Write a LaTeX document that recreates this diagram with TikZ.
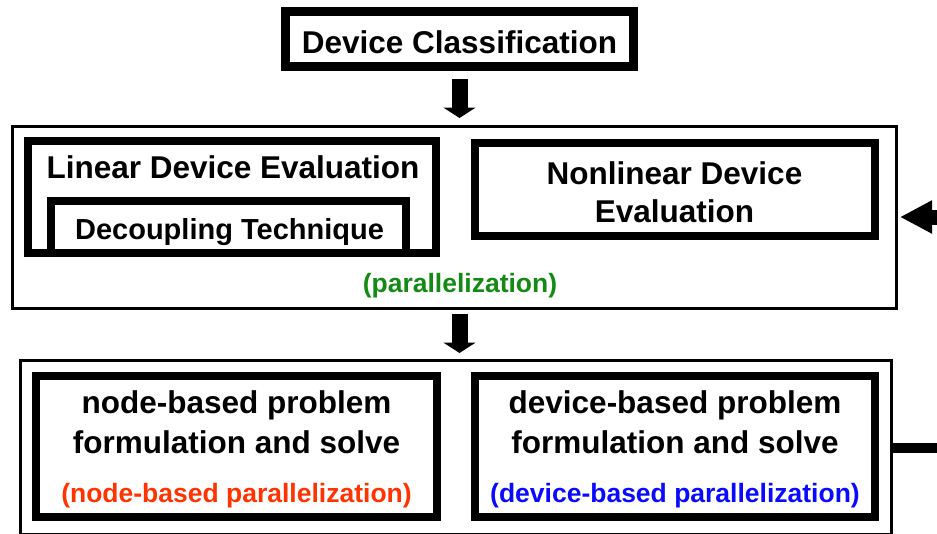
\documentclass[tikz,border=0pt]{standalone}
\usepackage{fontspec}
\setmainfont{Liberation Sans}
\usetikzlibrary{arrows.meta}
\definecolor{pargreen}{RGB}{20,138,20}
\definecolor{parred}{RGB}{255,51,0}
\definecolor{parblue}{RGB}{10,10,255}
\tikzset{
  thickbox/.style={draw=black, line width=8pt, rectangle, inner sep=0pt, fill=none},
  thinbox/.style={draw=black, line width=3pt, rectangle, inner sep=0pt, fill=none},
  bigarrow/.style={draw=black, line width=16pt, -{Triangle[width=32pt,length=10.5pt]}},
  sidearrow/.style={draw=black, line width=15pt, -{Triangle[width=31pt,length=32pt]}},
  maintxt/.style={anchor=base, inner sep=0pt, font=\bfseries\fontsize{31.5}{36}\selectfont},
  dectxt/.style={anchor=base, inner sep=0pt, font=\bfseries\fontsize{29}{34}\selectfont},
  partxt/.style={anchor=base, inner sep=0pt, font=\bfseries\fontsize{26.5}{31}\selectfont},
}
\begin{document}
\begin{tikzpicture}[x=1pt, y=-1pt]
\useasboundingbox (0,0) rectangle (937,533);
% boxes
\node[thickbox, line width=9pt, minimum width=348pt, minimum height=55pt] (top) at (459.5,39) {};
\node[thinbox, minimum width=884pt, minimum height=182.5pt] (mid) at (454.5,217.25) {};
\node[thinbox, minimum width=871pt, minimum height=173.5pt] (bot) at (455.5,447.25) {};
\node[thickbox, minimum width=408pt, minimum height=112pt] (lin) at (232,197) {};
\node[thickbox, minimum width=355pt, minimum height=52pt] (dec) at (228.5,227) {};
\node[thickbox, minimum width=400pt, minimum height=93pt] (nonlin) at (675,189.5) {};
\node[thickbox, minimum width=401pt, minimum height=140.5pt] (nodeb) at (236.5,446.25) {};
\node[thickbox, minimum width=400pt, minimum height=140.5pt] (devb) at (675,446.25) {};
% texts
\node[maintxt] (tcls) at (459.5,53) {Device Classification};
\node[maintxt] (tlin) at (233,178) {Linear Device Evaluation};
\node[dectxt] (tdec) at (229.5,239) {Decoupling Technique};
\node[maintxt] (tnl1) at (674.5,184) {Nonlinear Device};
\node[maintxt] (tnl2) at (674.5,222) {Evaluation};
\node[partxt, text=pargreen] (tpar) at (460,292) {(parallelization)};
\node[maintxt] (tnb1) at (236.5,413) {node-based problem};
\node[maintxt] (tnb2) at (236.5,453) {formulation and solve};
\node[partxt, text=parred] (tnb3) at (236.5,502) {(node-based parallelization)};
\node[maintxt] (tdb1) at (675,413) {device-based problem};
\node[maintxt] (tdb2) at (675,453) {formulation and solve};
\node[partxt, text=parblue] (tdb3) at (675,502) {(device-based parallelization)};
% connectors
\coordinate (fbin) at (990,217);
\coordinate (fbout) at (960,448);
\draw[bigarrow, shorten <=8pt, shorten >=6.5pt] (top.south) -- (top.south |- mid.north);
\draw[bigarrow, shorten <=4pt, shorten >=6pt] (mid.south -| top.south) -- (bot.north -| top.south);
\draw[sidearrow, shorten >=2pt] (fbin) -- (mid.east |- fbin);
\draw[line width=10pt] (bot.east |- fbout) -- (fbout);
\end{tikzpicture}
\end{document}
